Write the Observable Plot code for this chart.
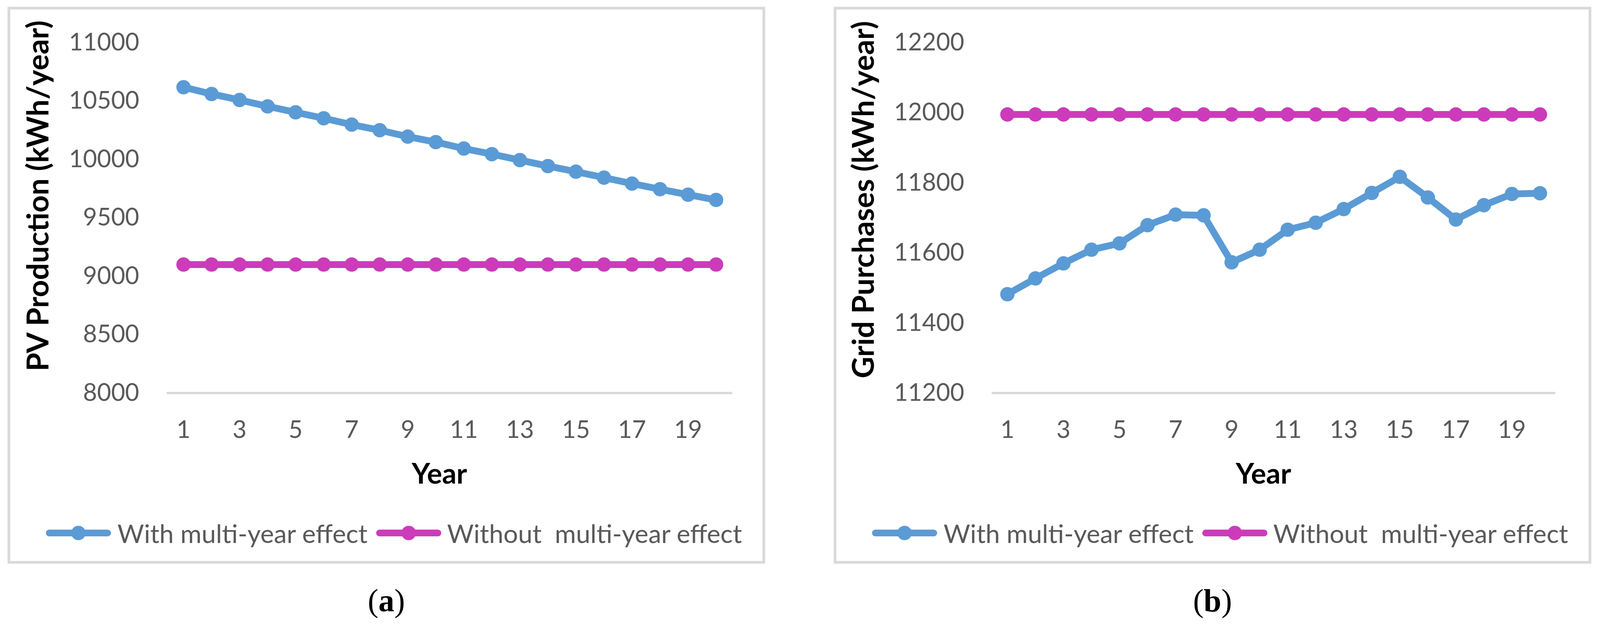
<!DOCTYPE html>
<html>
<head>
<meta charset="utf-8">
<script src="https://cdn.jsdelivr.net/npm/d3@7"></script>
<script src="https://cdn.jsdelivr.net/npm/@observablehq/plot@0.6"></script>
<style>
  html, body { margin: 0; background: #fff; overflow: hidden; }
  #page { position: relative; width: 4224px; height: 1646px; background: #fff; overflow: hidden; font-family: Lato, "Open Sans", sans-serif; transform-origin: 0 0; }
  .box { position: absolute; top: 18px; width: 1986px; height: 1456px; border: 7px solid #d9d9d9; background: #fff; }
  .box > svg { position: absolute; left: 0; top: 0; }
  .legend { position: absolute; left: 94px; top: 1290px; height: 184px; display: flex; flex-direction: row; align-items: center; font-size: 68px; color: #595959; white-space: pre; }
  .legend .sw { display: block; flex: none; }
  .legend span { display: block; flex: none; line-height: 1; }
  .caption { position: absolute; top: 1536px; width: 2000px; text-align: center; font-family: "Liberation Serif", "Times New Roman", serif; font-size: 84px; color: #000; line-height: 100px; }
</style>
</head>
<body>
<div id="page">
  <div class="box" id="boxA" style="left:20px;"></div>
  <div class="box" id="boxB" style="left:2201px;"></div>
  <div class="caption" style="left:20px;">(<b>a</b>)</div>
  <div class="caption" style="left:2201px;">(<b>b</b>)</div>
</div>
<script>
// ---- data ----
const years = [1, 2, 3, 4, 5, 6, 7, 8, 9, 10, 11, 12, 13, 14, 15, 16, 17, 18, 19, 20];
const xTickLabels = [1, 3, 5, 7, 9, 11, 13, 15, 17, 19];
const seriesNames = ["With multi-year effect", "Without  multi-year effect"];

const pvWith = [10618, 10560, 10509, 10454, 10403, 10352, 10298, 10250, 10195, 10148,
                10093, 10045, 9994, 9943, 9895, 9844, 9793, 9745, 9698, 9653];
const pvWithout = [9100, 9100, 9100, 9100, 9100, 9100, 9100, 9100, 9100, 9100,
                   9100, 9100, 9100, 9100, 9100, 9100, 9100, 9100, 9100, 9100];
const pvTicks = [8000, 8500, 9000, 9500, 10000, 10500, 11000];

const gridWith = [11482, 11527, 11570, 11609, 11627, 11679, 11709, 11707, 11573, 11609,
                  11666, 11686, 11725, 11771, 11817, 11758, 11695, 11736, 11768, 11770];
const gridWithout = [11995, 11995, 11995, 11995, 11995, 11995, 11995, 11995, 11995, 11995,
                     11995, 11995, 11995, 11995, 11995, 11995, 11995, 11995, 11995, 11995];
const gridTicks = [11200, 11400, 11600, 11800, 12000, 12200];

const colors = ["#5B9BD5", "#CC3BBA"];

// fit the 4224-wide page into the actual viewport
const page = document.getElementById("page");
const fit = Math.min(1, window.innerWidth / 4224);
page.style.transform = `scale(${fit})`;

function makePanel(boxId, cfg) {
  const withData = years.map((yr, i) => ({year: yr, v: cfg.withVals[i]}));
  const withoutData = years.map((yr, i) => ({year: yr, v: cfg.withoutVals[i]}));
  const chart = Plot.plot({
    width: 1986,
    height: 1290,
    marginLeft: cfg.ml,
    marginRight: cfg.mr,
    marginTop: 87,
    marginBottom: 278,
    style: {fontFamily: "Lato, 'Open Sans', sans-serif", fontSize: "64px", background: "transparent", overflow: "visible", color: "#595959", maxWidth: "none"},
    x: {type: "point", domain: years, padding: 0.5},
    y: {domain: [cfg.ticks[0], cfg.ticks[cfg.ticks.length - 1]]},
    marks: [
      Plot.ruleY([cfg.ticks[0]], {stroke: "#d9d9d9", strokeWidth: 6}),
      Plot.axisY({ticks: cfg.ticks, tickSize: 0, tickPadding: 73, label: null, tickFormat: d => String(d), color: "#595959"}),
      Plot.axisX({ticks: xTickLabels, tickSize: 0, tickPadding: 73, label: null, tickFormat: d => String(d), color: "#595959"}),
      Plot.line(withData, {x: "year", y: "v", stroke: colors[0], strokeWidth: 18, strokeLinejoin: "round", strokeLinecap: "round"}),
      Plot.dot(withData, {x: "year", y: "v", r: 19, fill: colors[0], stroke: null}),
      Plot.line(withoutData, {x: "year", y: "v", stroke: colors[1], strokeWidth: 18, strokeLinejoin: "round", strokeLinecap: "round"}),
      Plot.dot(withoutData, {x: "year", y: "v", r: 19, fill: colors[1], stroke: null}),
      Plot.text(["Year"], {frameAnchor: "bottom", textAnchor: "middle", lineAnchor: "middle", dx: -27, dy: 215, fontSize: 75, fontWeight: "bold", fill: "#000"}),
      Plot.text([cfg.yTitle], {frameAnchor: "left", textAnchor: "middle", lineAnchor: "middle", rotate: -90, dx: cfg.tdx, dy: cfg.tdy, fontSize: 79, fontWeight: "bold", fill: "#000"})
    ]
  });
  const box = document.getElementById(boxId);
  box.appendChild(chart);

  // legend (HTML, below the SVG)
  const legend = document.createElement("div");
  legend.className = "legend";
  const gaps = [[0, 17], [23, 15]];
  seriesNames.forEach((name, i) => {
    const sw = document.createElementNS("http://www.w3.org/2000/svg", "svg");
    sw.setAttribute("width", 172);
    sw.setAttribute("height", 44);
    sw.setAttribute("class", "sw");
    sw.style.marginLeft = gaps[i][0] + "px";
    sw.style.marginRight = gaps[i][1] + "px";
    sw.innerHTML = `<line x1="9" y1="22" x2="163" y2="22" stroke="${colors[i]}" stroke-width="18" stroke-linecap="round"/>` +
                   `<circle cx="86" cy="22" r="19" fill="${colors[i]}"/>`;
    legend.appendChild(sw);
    const t = document.createElement("span");
    t.textContent = name;
    legend.appendChild(t);
  });
  box.appendChild(legend);
}

makePanel("boxA", {
  withVals: pvWith, withoutVals: pvWithout, ticks: pvTicks,
  yTitle: "PV Production (kWh/year)", ml: 413, mr: 80, tdx: -338, tdy: -58
});
makePanel("boxB", {
  withVals: gridWith, withoutVals: gridWithout, ticks: gridTicks,
  yTitle: "Grid Purchases (kWh/year)", ml: 410, mr: 88, tdx: -337, tdy: -48
});
</script>
</body>
</html>
